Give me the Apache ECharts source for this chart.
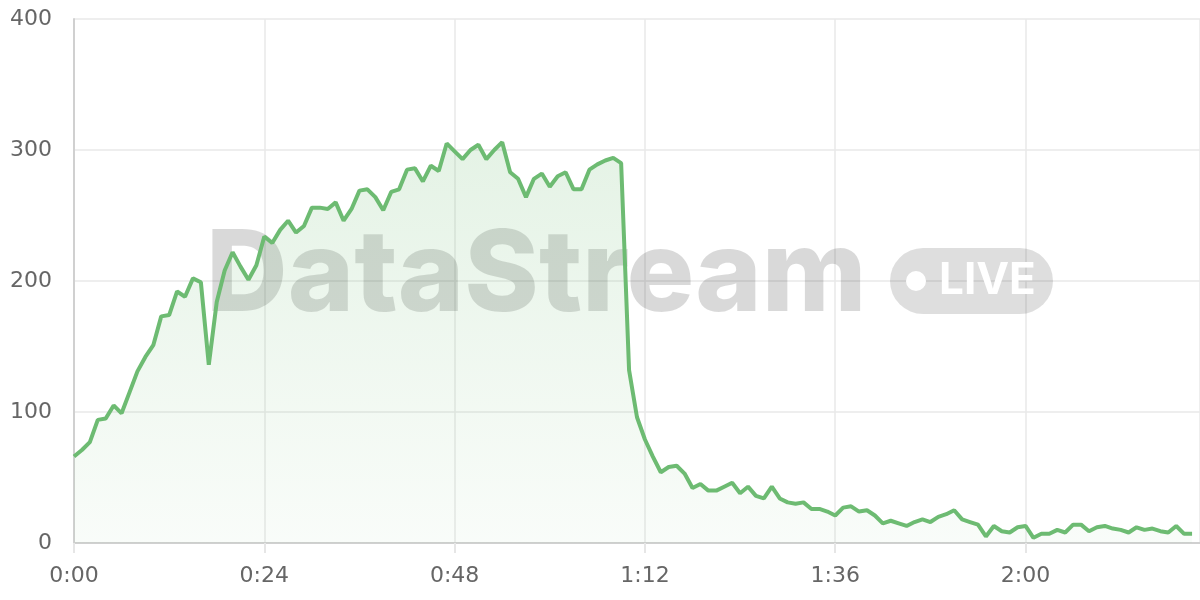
<!DOCTYPE html>
<html>
<head>
<meta charset="utf-8">
<script src="https://cdn.jsdelivr.net/npm/echarts@6/dist/echarts.min.js"></script>
<style>
html,body{margin:0;padding:0;background:#fff;}
#chart{width:1200px;height:600px;}
</style>
</head>
<body>
<div id="chart"></div>
<script>
// Values sampled once per minute, starting at 0:00
const values = [
  66, 71, 77, 94, 95, 105, 99, 115, 131, 142,
  151, 173, 174, 192, 188, 202, 199, 136, 184, 208,
  222, 211, 201, 212, 234, 229, 239, 246, 237, 242,
  256, 256, 255, 260, 246, 255, 269, 270, 264, 254,
  268, 270, 285, 286, 276, 288, 284, 305, 299, 293,
  300, 304, 293, 300, 306, 283, 278, 264, 278, 282,
  272, 280, 283, 270, 270, 285, 289, 292, 294, 290,
  132, 96, 79, 66, 54, 58, 59, 53, 42, 45,
  40, 40, 43, 46, 38, 43, 36, 34, 43, 34,
  31, 30, 31, 26, 26, 24, 21, 27, 28, 24,
  25, 21, 15, 17, 15, 13, 16, 18, 16, 20,
  22, 25, 18, 16, 14, 5, 13, 9, 8, 12,
  13, 4, 7, 7, 10, 8, 14, 14, 9, 12,
  13, 11, 10, 8, 12, 10, 11, 9, 8, 13,
  7, 7
];
const xTickValues = [0, 24, 48, 72, 96, 120];
const xTickLabels = ['0:00', '0:24', '0:48', '1:12', '1:36', '2:00'];
const yTickLabels = ['0', '100', '200', '300', '400'];
const watermarkText = 'DataStream';
const badgeText = 'LIVE';

const seriesData = values.map((v, i) => [i, v]);

const chart = echarts.init(document.getElementById('chart'), null, {renderer: 'canvas'});
const labelFont = 'DejaVu Sans';
chart.setOption({
  animation: false,
  backgroundColor: '#ffffff',
  grid: {left: 74, right: 0, top: 19, bottom: 57, containLabel: false},
  graphic: [
    {
      type: 'text', z: 1, left: 206, top: 221,
      style: {text: watermarkText, font: '800 113px Inter', fill: 'rgba(0,0,0,0.15)'}
    },
    {
      type: 'rect', z: 1, shape: {x: 890, y: 248, width: 163, height: 66, r: 33},
      style: {fill: 'rgba(0,0,0,0.13)'}
    },
    {
      type: 'circle', z: 1, shape: {cx: 916, cy: 281, r: 10},
      style: {fill: '#ffffff'}
    },
    {
      type: 'text', z: 1, left: 939, top: 259,
      style: {text: badgeText, font: '700 44px Inter', fill: '#ffffff'}
    }
  ],
  xAxis: {
    type: 'value',
    min: 0, max: 142, interval: 24,
    axisLine: {show: true, lineStyle: {color: '#d0d0d0', width: 2}},
    axisTick: {show: true, length: 10, lineStyle: {color: '#e6e6e6', width: 2}},
    splitLine: {show: true, lineStyle: {color: '#e8e8e8', width: 1.5}},
    axisLabel: {
      color: '#666', fontSize: 22, fontFamily: labelFont, margin: 22,
      showMaxLabel: false,
      formatter: function (v) {
        const idx = xTickValues.indexOf(v);
        return idx >= 0 ? xTickLabels[idx] : '';
      }
    }
  },
  yAxis: {
    type: 'value',
    min: 0, max: 400, interval: 100,
    axisLine: {show: true, lineStyle: {color: '#d0d0d0', width: 2}},
    axisTick: {show: false},
    splitLine: {show: true, lineStyle: {color: '#e8e8e8', width: 1.5}},
    axisLabel: {
      color: '#666', fontSize: 22, fontFamily: labelFont, margin: 22,
      formatter: function (v) { return yTickLabels[Math.round(v / 100)]; }
    }
  },
  series: [{
    type: 'line',
    z: 2,
    data: seriesData,
    showSymbol: false,
    symbol: 'none',
    lineStyle: {color: '#6dbb72', width: 4},
    itemStyle: {color: '#6dbb72'},
    areaStyle: {
      color: new echarts.graphic.LinearGradient(0, 0, 0, 1, [
        {offset: 0, color: 'rgba(109,187,114,0.26)'},
        {offset: 1, color: 'rgba(109,187,114,0.06)'}
      ])
    }
  }]
});
</script>
</body>
</html>
